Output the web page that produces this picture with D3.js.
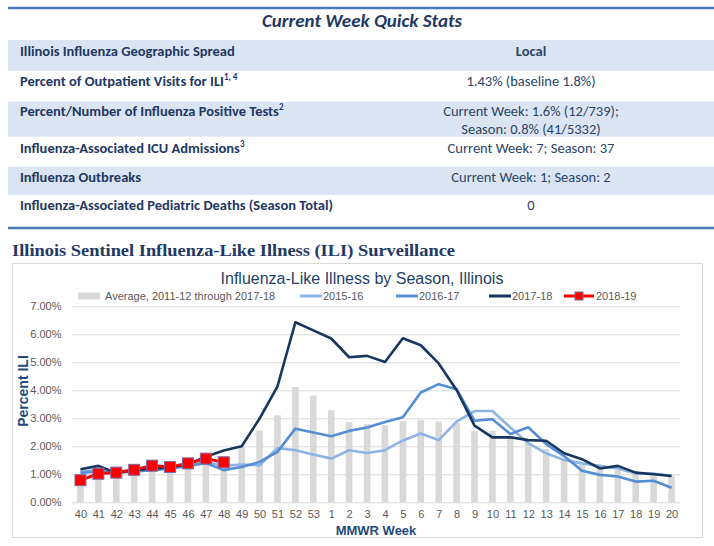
<!DOCTYPE html>
<html>
<head>
<meta charset="utf-8">
<script src="https://cdn.jsdelivr.net/npm/d3@7"></script>
<style>
  body { margin: 0; background: #fff; }
</style>
</head>
<body>
<div id="wrapper"></div>
<script>
// table text
const statLabels = [
  "Illinois Influenza Geographic Spread",
  "Percent of Outpatient Visits for ILI",
  "Percent/Number of Influenza Positive Tests",
  "Influenza-Associated ICU Admissions",
  "Influenza Outbreaks",
  "Influenza-Associated Pediatric Deaths (Season Total)"
];
const statSups = ["", "1, 4", "2", "3", "", ""];
const statValues = [
  ["Local"],
  ["1.43% (baseline 1.8%)"],
  ["Current Week: 1.6% (12/739);", "Season: 0.8% (41/5332)"],
  ["Current Week: 7; Season: 37"],
  ["Current Week: 1; Season: 2"],
  ["0"]
];

// chart data
const weeks = ["40","41","42","43","44","45","46","47","48","49","50","51","52","53",
  "1","2","3","4","5","6","7","8","9","10","11","12","13","14","15","16","17","18","19","20"];
const seriesNames = ["Average, 2011-12 through 2017-18", "2015-16", "2016-17", "2017-18", "2018-19"];
const avgValues = [1.00,1.10,1.05,1.15,1.35,1.30,1.40,1.65,1.60,1.98,2.57,3.11,4.12,3.81,
  3.29,2.87,2.79,2.75,2.90,2.95,2.88,2.83,2.55,2.55,2.35,2.12,1.90,1.55,1.35,1.20,1.15,1.05,0.95,0.95];
const ili1516 = [1.10,1.15,1.10,1.15,1.20,1.25,1.30,1.45,1.30,1.35,1.32,1.94,1.86,1.71,
  1.56,1.86,1.76,1.86,2.21,2.46,2.22,2.88,3.26,3.26,2.67,2.11,1.75,1.51,1.39,1.30,1.21,1.03,1.03,0.95];
const ili1617 = [1.05,1.10,1.05,1.10,1.15,1.20,1.30,1.40,1.15,1.26,1.44,1.80,2.63,2.49,
  2.36,2.55,2.67,2.87,3.04,3.92,4.22,4.04,2.91,2.97,2.44,2.68,2.08,1.65,1.13,0.98,0.92,0.74,0.77,0.52];
const ili1718 = [1.18,1.30,1.05,1.15,1.20,1.25,1.35,1.63,1.85,2.00,2.99,4.14,6.43,6.14,
  5.85,5.18,5.23,5.01,5.86,5.61,4.96,4.01,2.74,2.32,2.32,2.22,2.20,1.75,1.54,1.21,1.30,1.06,1.00,0.94];
const ili1819 = [0.79,1.02,1.06,1.16,1.31,1.26,1.39,1.56,1.43];
const yTicks = [0, 1, 2, 3, 4, 5, 6, 7];

const navy = "#1f3864";
const svg = d3.select("#wrapper").append("svg")
  .attr("width", 714)
  .attr("height", 546)
  .style("display", "block");

// ---------- Quick stats table ----------
const tableFont = "Carlito, Lato, 'Open Sans', sans-serif";
const rowTops = [40, 70.7, 101.7, 136.7, 166.7, 195, 226];
const rowTextY = [[56], [86], [116, 134], [152.5], [181.5], [209.5]];

svg.append("text")
  .attr("x", 362)
  .attr("y", 27)
  .attr("text-anchor", "middle")
  .attr("font-family", tableFont)
  .attr("font-size", 19)
  .attr("font-weight", "bold")
  .attr("font-style", "italic")
  .attr("fill", navy)
  .text("Current Week Quick Stats");

statLabels.forEach((label, i) => {
  if (i % 2 === 0) {
    svg.append("rect")
      .attr("x", 8)
      .attr("y", rowTops[i])
      .attr("width", 706)
      .attr("height", rowTops[i + 1] - rowTops[i])
      .attr("fill", "#dbe4f2");
  }
  const t = svg.append("text")
    .attr("x", 20)
    .attr("y", rowTextY[i][0])
    .attr("font-family", tableFont)
    .attr("font-size", 14.5)
    .attr("font-weight", "bold")
    .attr("fill", navy)
    .text(label);
  if (statSups[i]) {
    t.append("tspan")
      .attr("dy", -6)
      .attr("font-size", 9)
      .text(statSups[i]);
  }
  statValues[i].forEach((line, j) => {
    svg.append("text")
      .attr("x", 531)
      .attr("y", rowTextY[i][j])
      .attr("text-anchor", "middle")
      .attr("font-family", tableFont)
      .attr("font-size", 14.5)
      .attr("font-weight", i === 0 ? "bold" : "normal")
      .attr("fill", "#2b4466")
      .text(line);
  });
});

svg.append("line").attr("x1", 8).attr("x2", 714).attr("y1", 8).attr("y2", 8)
  .attr("stroke", "#4a78b8").attr("stroke-width", 2.5);
svg.append("line").attr("x1", 8).attr("x2", 714).attr("y1", 228).attr("y2", 228)
  .attr("stroke", "#4a78b8").attr("stroke-width", 2.5);

// ---------- Section heading ----------
svg.append("text")
  .attr("x", 12)
  .attr("y", 256)
  .attr("font-family", "'Liberation Serif', serif")
  .attr("font-size", 17)
  .attr("font-weight", "bold")
  .attr("fill", navy)
  .attr("textLength", 443)
  .attr("lengthAdjust", "spacingAndGlyphs")
  .text("Illinois Sentinel Influenza-Like Illness (ILI) Surveillance");

// ---------- Chart ----------
svg.append("rect")
  .attr("x", 12.5)
  .attr("y", 263.5)
  .attr("width", 690)
  .attr("height", 274)
  .attr("fill", "#fff")
  .attr("stroke", "#d9d9d9");

const chartFont = "'Liberation Sans', Arial, sans-serif";
const plot = { left: 71.5, right: 680.5, top: 306.3, bottom: 502.3 };

const x = d3.scalePoint()
  .domain(weeks)
  .range([plot.left, plot.right])
  .padding(0.5);
const y = d3.scaleLinear()
  .domain([0, 7])
  .range([plot.bottom, plot.top]);

svg.append("text")
  .attr("x", 362)
  .attr("y", 284)
  .attr("text-anchor", "middle")
  .attr("font-family", chartFont)
  .attr("font-size", 16)
  .attr("fill", "#1f3f66")
  .text("Influenza-Like Illness by Season, Illinois");

// y axis + grid
const yAxis = svg.append("g")
  .attr("transform", "translate(" + plot.left + ",0)")
  .call(d3.axisLeft(y)
    .tickValues(yTicks)
    .tickSize(-(plot.right - plot.left))
    .tickPadding(10)
    .tickFormat(d => d.toFixed(2) + "%"));
yAxis.select(".domain").remove();
yAxis.selectAll(".tick line").attr("stroke", "#d9d9d9");
yAxis.selectAll(".tick text")
  .attr("font-family", chartFont)
  .attr("font-size", 11)
  .attr("fill", "#595959");

// x axis
const xAxis = svg.append("g")
  .attr("transform", "translate(0," + plot.bottom + ")")
  .call(d3.axisBottom(x).tickSize(0).tickPadding(8));
xAxis.select(".domain").remove();
xAxis.selectAll(".tick text")
  .attr("font-family", chartFont)
  .attr("font-size", 11)
  .attr("fill", "#595959");

// average bars
const barW = x.step() * 0.37;
svg.append("g")
  .selectAll("rect")
  .data(avgValues)
  .join("rect")
    .attr("x", (d, i) => x(weeks[i]) - barW / 2)
    .attr("y", d => y(d))
    .attr("width", barW)
    .attr("height", d => y(0) - y(d))
    .attr("fill", "#d9d9d9");

const line = d3.line()
  .x((d, i) => x(weeks[i]))
  .y(d => y(d));

const seasonLines = [
  { values: ili1516, color: "#8db3e2" },
  { values: ili1617, color: "#558ed5" },
  { values: ili1718, color: "#17365d" },
  { values: ili1819, color: "#ff0000" }
];
seasonLines.forEach(s => {
  svg.append("path")
    .attr("d", line(s.values))
    .attr("fill", "none")
    .attr("stroke", s.color)
    .attr("stroke-width", s.color === "#ff0000" ? 3 : 2.6)
    .attr("stroke-linejoin", "round");
});

svg.append("g")
  .selectAll("rect")
  .data(ili1819)
  .join("rect")
    .attr("x", (d, i) => x(weeks[i]) - 5.5)
    .attr("y", d => y(d) - 5.5)
    .attr("width", 11)
    .attr("height", 11)
    .attr("fill", "#ff0000")
    .attr("stroke", "#7f6aa6")
    .attr("stroke-width", 1);

// axis titles
svg.append("text")
  .attr("transform", "translate(28,391) rotate(-90)")
  .attr("text-anchor", "middle")
  .attr("font-family", chartFont)
  .attr("font-size", 14)
  .attr("font-weight", "bold")
  .attr("fill", "#1f497d")
  .text("Percent ILI");
svg.append("text")
  .attr("x", 376)
  .attr("y", 535)
  .attr("text-anchor", "middle")
  .attr("font-family", chartFont)
  .attr("font-size", 13)
  .attr("font-weight", "bold")
  .attr("fill", "#1f497d")
  .text("MMWR Week");

// legend
const legendX = [78, 300, 396, 489, 564];
const legendColors = ["#d9d9d9", "#8db3e2", "#558ed5", "#17365d", "#ff0000"];
const legend = svg.append("g")
  .selectAll("g")
  .data(seriesNames)
  .join("g")
    .attr("transform", (d, i) => "translate(" + legendX[i] + ",296)");
legend.append("rect")
  .attr("x", 0)
  .attr("y", (d, i) => i === 0 ? -3.5 : -1.5)
  .attr("width", (d, i) => i === 4 ? 30 : 22)
  .attr("height", (d, i) => i === 0 ? 7 : 3)
  .attr("fill", (d, i) => legendColors[i]);
legend.filter((d, i) => i === 4)
  .append("rect")
    .attr("x", 11)
    .attr("y", -4)
    .attr("width", 8)
    .attr("height", 8)
    .attr("fill", "#ff0000")
    .attr("stroke", "#7f6aa6");
legend.append("text")
  .attr("x", (d, i) => i === 4 ? 32 : (i === 0 ? 27 : 23))
  .attr("y", 4)
  .attr("font-family", chartFont)
  .attr("font-size", 11)
  .attr("fill", "#595959")
  .text(d => d);
</script>
</body>
</html>
